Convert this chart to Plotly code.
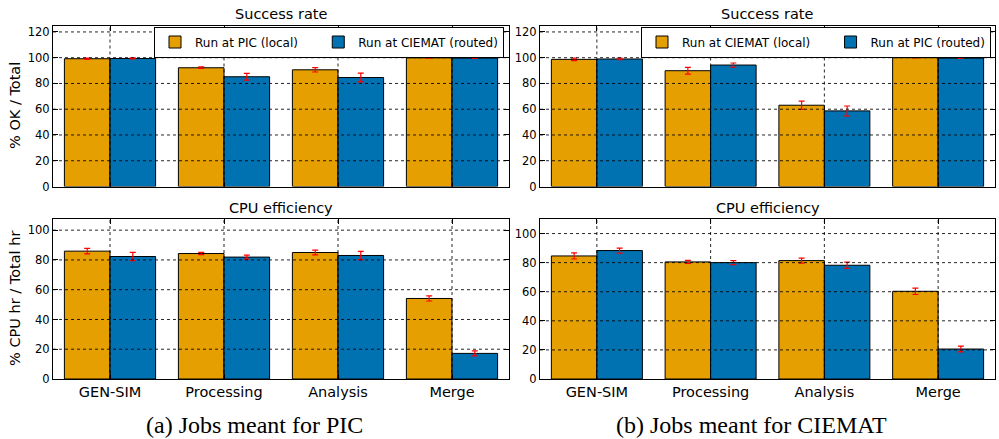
import plotly.graph_objects as go

categories = ["GEN-SIM", "Processing", "Analysis", "Merge"]

# (a) Jobs meant for PIC
pic_success_local = [99.2, 92.2, 90.6, 99.9]
pic_success_local_err = [0.5, 0.6, 1.7, 0.2]
pic_success_routed = [99.4, 85.2, 84.6, 99.7]
pic_success_routed_err = [0.4, 2.6, 3.4, 0.3]
pic_cpu_local = [85.9, 84.3, 85.0, 54.1]
pic_cpu_local_err = [1.8, 0.8, 1.6, 1.7]
pic_cpu_routed = [82.3, 81.9, 83.0, 17.2]
pic_cpu_routed_err = [2.8, 1.3, 2.8, 1.7]

# (b) Jobs meant for CIEMAT
ciemat_success_local = [98.7, 89.9, 63.1, 100.0]
ciemat_success_local_err = [1.0, 2.6, 3.2, 0.2]
ciemat_success_routed = [99.0, 94.3, 58.7, 99.7]
ciemat_success_routed_err = [0.6, 1.6, 3.8, 0.3]
ciemat_cpu_local = [84.6, 80.5, 81.4, 60.3]
ciemat_cpu_local_err = [2.1, 1.1, 1.7, 2.2]
ciemat_cpu_routed = [88.3, 80.0, 78.2, 20.6]
ciemat_cpu_routed_err = [1.7, 1.4, 2.1, 2.0]

legend_a = ["Run at PIC (local)", "Run at CIEMAT (routed)"]
legend_b = ["Run at CIEMAT (local)", "Run at PIC (routed)"]

panel_titles = ["Success rate", "Success rate", "CPU efficiency", "CPU efficiency"]
y_titles = ["% OK / Total", "% CPU hr / Total hr"]
captions = ["(a) Jobs meant for PIC", "(b) Jobs meant for CIEMAT"]

yticks_top = [0, 20, 40, 60, 80, 100, 120]
yticks_bottom = [0, 20, 40, 60, 80, 100]
yrange_top = [0, 125]
yrange_bl = [0, 107.5]
yrange_br = [0, 110]

ORANGE = "#E69F00"
BLUE = "#0072B2"
FONT = "DejaVu Sans"
W, H = 999, 439
PAD = "\u00a0" * 4  # extra column spacing after the first legend entry (matplotlib-like)

xpos = list(range(len(categories)))

fig = go.Figure()

panels = [
    ("", pic_success_local, pic_success_local_err, pic_success_routed, pic_success_routed_err, legend_a, "legend"),
    ("2", ciemat_success_local, ciemat_success_local_err, ciemat_success_routed, ciemat_success_routed_err, legend_b, "legend2"),
    ("3", pic_cpu_local, pic_cpu_local_err, pic_cpu_routed, pic_cpu_routed_err, legend_a, None),
    ("4", ciemat_cpu_local, ciemat_cpu_local_err, ciemat_cpu_routed, ciemat_cpu_routed_err, legend_b, None),
]

for suf, loc, loc_e, rou, rou_e, names, leg in panels:
    for vals, errs, color, name in ((loc, loc_e, ORANGE, names[0] + PAD), (rou, rou_e, BLUE, names[1])):
        kw = dict(legend=leg) if leg else {}
        fig.add_trace(go.Bar(
            x=xpos, y=vals, name=name,
            marker=dict(color=color, line=dict(color="black", width=1)),
            error_y=dict(type="data", array=errs, visible=True, color="red", thickness=1.2, width=3),
            xaxis="x" + suf, yaxis="y" + suf,
            showlegend=bool(leg), **kw,
        ))

xdom_l = [53 / W, 509 / W]
xdom_r = [540 / W, 995 / W]
ydom_t = [1 - 186.5 / H, 1 - 25.5 / H]
ydom_b = [1 - 379 / H, 1 - 219 / H]

def xaxis(domain, anchor, labels):
    return dict(domain=domain, anchor=anchor, range=[-0.5, 3.5], tickvals=xpos,
                ticktext=categories, showticklabels=labels, ticks="inside", ticklen=5,
                tickcolor="black", showline=True, linecolor="black", linewidth=1,
                mirror="ticks", showgrid=False, zeroline=False, automargin=False,
                tickfont=dict(family=FONT, size=14.5, color="black"), fixedrange=True)

def yaxis(domain, anchor, rng, ticks):
    return dict(domain=domain, anchor=anchor, range=rng, tickvals=ticks,
                ticks="inside", ticklen=5, tickcolor="black", showline=True,
                linecolor="black", linewidth=1, mirror="ticks", showgrid=False,
                zeroline=False, automargin=False,
                tickfont=dict(family=FONT, size=11.5, color="black"),
                fixedrange=True)

legend_common = dict(orientation="h", xanchor="left", y=1 - 26.5 / H, yanchor="top",
                     bgcolor="white", bordercolor="black", borderwidth=1,
                     font=dict(family=FONT, size=12, color="black"),
                     traceorder="normal")

layout = dict(
    width=W, height=H, margin=dict(l=0, r=0, t=0, b=0),
    paper_bgcolor="white", plot_bgcolor="white",
    barmode="group", bargap=0.2, bargroupgap=0,
    font=dict(family=FONT, color="black"),
    xaxis=xaxis(xdom_l, "y", False),
    yaxis=yaxis(ydom_t, "x", yrange_top, yticks_top),
    xaxis2=xaxis(xdom_r, "y2", False),
    yaxis2=yaxis(ydom_t, "x2", yrange_top, yticks_top),
    xaxis3=xaxis(xdom_l, "y3", True),
    yaxis3=yaxis(ydom_b, "x3", yrange_bl, yticks_bottom),
    xaxis4=xaxis(xdom_r, "y4", True),
    yaxis4=yaxis(ydom_b, "x4", yrange_br, yticks_bottom),
    legend=dict(x=154 / W, **legend_common),
    legend2=dict(x=641 / W, **legend_common),
)
fig.update_layout(**layout)

# dotted grid drawn above bars (as in the reference)
grid_line = dict(color="rgba(0,0,0,0.85)", width=1, dash="dot")
axis_sets = [("", yticks_top), ("2", yticks_top), ("3", yticks_bottom), ("4", yticks_bottom)]
for suf, yt in axis_sets:
    xr = "x" + suf
    yr = "y" + suf
    for v in yt[1:]:
        fig.add_shape(type="line", xref=xr + " domain", yref=yr, x0=0, x1=1, y0=v, y1=v,
                      line=grid_line, layer="above")
    for c in xpos:
        fig.add_shape(type="line", xref=xr, yref=yr + " domain", x0=c, x1=c, y0=0, y1=1,
                      line=grid_line, layer="above")

# panel titles
for suf, t in zip(["", "2", "3", "4"], panel_titles):
    fig.add_annotation(text=t, xref="x" + suf + " domain", yref="y" + suf + " domain",
                       x=0.5, y=1, xanchor="center", yanchor="bottom", yshift=1,
                       showarrow=False, font=dict(family=FONT, size=14.5, color="black"))

# y-axis titles (left column only)
for t, dom in zip(y_titles, [ydom_t, ydom_b]):
    fig.add_annotation(text=t, xref="paper", yref="paper", x=15 / W, y=(dom[0] + dom[1]) / 2,
                       xanchor="center", yanchor="middle", textangle=-90, showarrow=False,
                       font=dict(family=FONT, size=14.5, color="black"))

# captions
for t, cx in zip(captions, [254.5, 751]):
    fig.add_annotation(text=t, xref="paper", yref="paper", x=cx / W, y=1 - 425 / H,
                       xanchor="center", yanchor="middle", showarrow=False,
                       font=dict(family="Liberation Serif", size=24, color="black"))

fig.write_html("out.html", config={"displayModeBar": False},
               post_script="document.body.style.margin='0';document.body.style.overflow='hidden';")
